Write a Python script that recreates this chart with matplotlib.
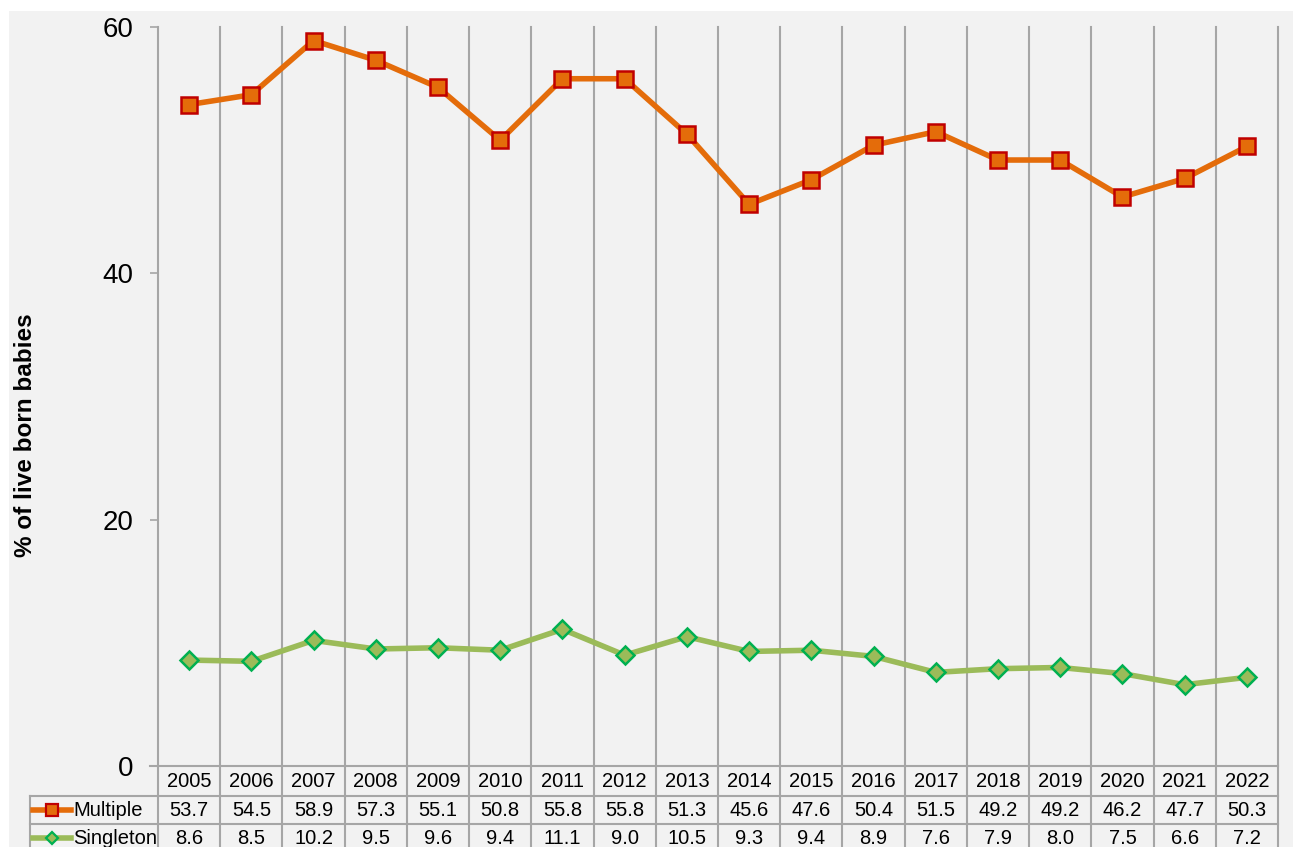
import matplotlib.pyplot as plt
from matplotlib.patches import Rectangle
from matplotlib.lines import Line2D
from matplotlib.transforms import blended_transform_factory

plt.rcParams['font.family'] = ['Liberation Sans', 'DejaVu Sans']

years = [str(y) for y in range(2005, 2023)]
multiple = [53.7, 54.5, 58.9, 57.3, 55.1, 50.8, 55.8, 55.8, 51.3, 45.6,
            47.6, 50.4, 51.5, 49.2, 49.2, 46.2, 47.7, 50.3]
singleton = [8.6, 8.5, 10.2, 9.5, 9.6, 9.4, 11.1, 9.0, 10.5, 9.3,
             9.4, 8.9, 7.6, 7.9, 8.0, 7.5, 6.6, 7.2]
yticks = [0, 20, 40, 60]

W, H = 1293, 847
BG = '#F2F2F2'
GRID = '#A6A6A6'
TFS = 14.5  # table font size


def fx(px):
    return px / W


def fy(py):
    return 1 - py / H


fig = plt.figure(figsize=(W / 100, H / 100), dpi=100, facecolor='white')
# grey chart area (white strip at top and left)
fig.patches.append(Rectangle((fx(9), 0), 1 - fx(9), fy(11), transform=fig.transFigure,
                             facecolor=BG, edgecolor='none', zorder=-5))

ax = fig.add_axes([fx(158), fy(766), fx(1278) - fx(158), fy(27) - fy(766)])
ax.patch.set_alpha(0)
for s in ax.spines.values():
    s.set_visible(False)

x = list(range(len(years)))
ax.set_xlim(-0.5, len(years) - 0.5)
ax.set_ylim(0, 60)

# vertical grid lines running down into the data table
bt = blended_transform_factory(ax.transData, fig.transFigure)
for b in [i - 0.5 for i in range(len(years) + 1)]:
    ax.add_line(Line2D([b, b], [fy(27), 0], transform=bt, color=GRID, lw=1.5,
                       clip_on=False, zorder=1))

ax.plot(x, multiple, color='#E46C0A', lw=4, marker='s', markersize=11,
        markerfacecolor='#E46C0A', markeredgecolor='#C00000', markeredgewidth=1.8, zorder=3)
ax.plot(x, singleton, color='#9BBB59', lw=4, marker='D', markersize=9,
        markerfacecolor='#9BBB59', markeredgecolor='#00B050', markeredgewidth=1.8, zorder=3)

ax.set_xticks([])
ax.set_yticks(yticks)
ax.set_yticklabels([str(v) for v in yticks], fontsize=20)
ax.tick_params(axis='y', length=6, width=1.2, color=GRID, pad=12)

fig.text(fx(26), fy(435), '% of live born babies', rotation=90, ha='center', va='center',
         fontsize=17.5, fontweight='bold')

# data table
ft = fig.transFigure
fig.add_artist(Line2D([fx(150), fx(1278)], [fy(766), fy(766)], transform=ft, color=GRID, lw=1.5))
for yy in (796, 824):
    fig.add_artist(Line2D([fx(30), fx(1278)], [fy(yy), fy(yy)], transform=ft, color=GRID, lw=1.5))
fig.add_artist(Line2D([fx(30), fx(30)], [fy(796), 0], transform=ft, color=GRID, lw=1.5))

for i, yr in enumerate(years):
    ax.text(i, fy(781), yr, transform=bt, ha='center', va='center', fontsize=TFS)
    ax.text(i, fy(810), f'{multiple[i]:.1f}', transform=bt, ha='center', va='center', fontsize=TFS)
    ax.text(i, fy(838), f'{singleton[i]:.1f}', transform=bt, ha='center', va='center', fontsize=TFS)

fig.add_artist(Line2D([fx(33), fx(71)], [fy(810), fy(810)], transform=ft, color='#E46C0A', lw=4))
fig.add_artist(Line2D([fx(52)], [fy(810)], transform=ft, marker='s', markersize=8,
                      markerfacecolor='#E46C0A', markeredgecolor='#C00000', markeredgewidth=1.6))
fig.add_artist(Line2D([fx(33), fx(71)], [fy(838), fy(838)], transform=ft, color='#9BBB59', lw=4))
fig.add_artist(Line2D([fx(52)], [fy(838)], transform=ft, marker='D', markersize=6.5,
                      markerfacecolor='#9BBB59', markeredgecolor='#00B050', markeredgewidth=1.6))
fig.text(fx(73), fy(810), 'Multiple', ha='left', va='center', fontsize=TFS)
fig.text(fx(73), fy(838), 'Singleton', ha='left', va='center', fontsize=TFS)

fig.savefig('out.png', dpi=100, facecolor=fig.get_facecolor())
